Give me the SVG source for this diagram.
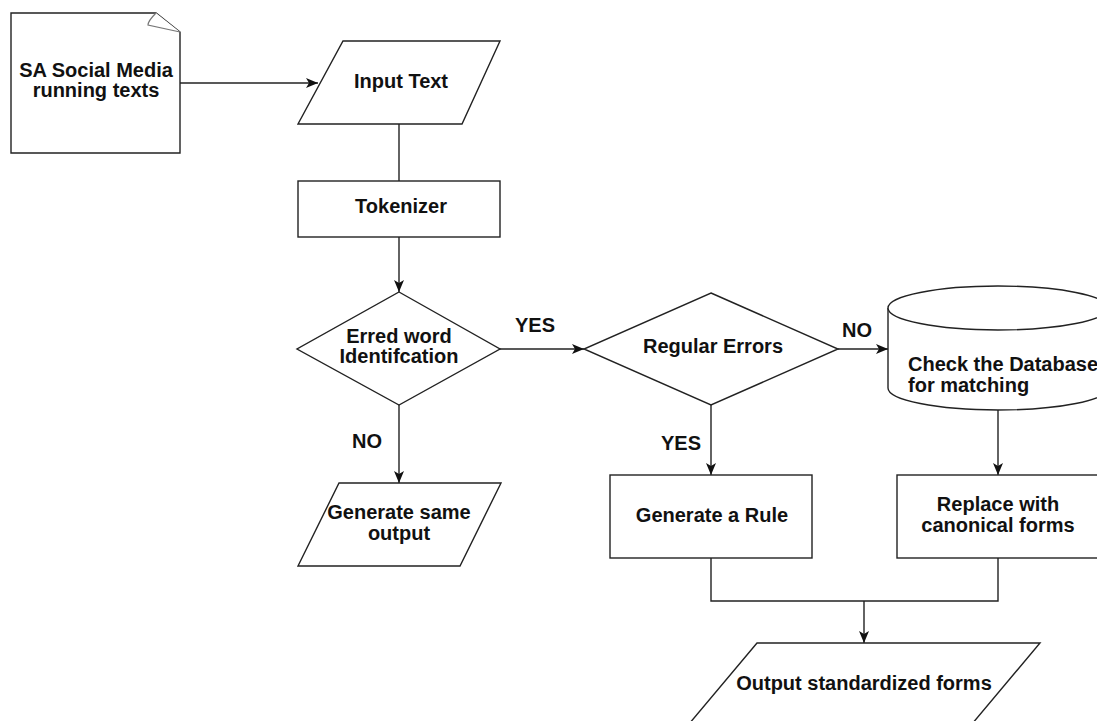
<svg xmlns="http://www.w3.org/2000/svg" width="1097" height="721" viewBox="0 0 1097 721">
<style>
.s{fill:#fff;stroke:#222;stroke-width:1.4}
.c{fill:none;stroke:#222;stroke-width:1.4}
.t{font-family:"Liberation Sans",Arial,sans-serif;font-weight:bold;font-size:20px;fill:#111;text-anchor:middle}
.l{text-anchor:start}
</style>
<defs>
<marker id="a" viewBox="0 0 12 10" refX="12" refY="5" markerWidth="12" markerHeight="10" markerUnits="userSpaceOnUse" orient="auto">
<path d="M0,0 L12,5 L0,10 L3,5 Z" fill="#111"/>
</marker>
</defs>
<rect width="1097" height="721" fill="#fff"/>
<g id="connectors">
<path class="c" d="M180,83 L318,83" marker-end="url(#a)"/>
<path class="c" d="M399,124 L399,181"/>
<path class="c" d="M399,237 L399,292" marker-end="url(#a)"/>
<path class="c" d="M500,349 L584,349" marker-end="url(#a)"/>
<path class="c" d="M838,349 L888,349" marker-end="url(#a)"/>
<path class="c" d="M399,405 L399,483" marker-end="url(#a)"/>
<path class="c" d="M711,405 L711,475" marker-end="url(#a)"/>
<path class="c" d="M998,410 L998,475" marker-end="url(#a)"/>
<path class="c" d="M711,558 L711,601 L998,601 L998,558"/>
<path class="c" d="M864,601 L864,643" marker-end="url(#a)"/>
<text class="t" x="535" y="332">YES</text>
<text class="t" x="857" y="337">NO</text>
<text class="t" x="367" y="448">NO</text>
<text class="t" x="681" y="450">YES</text>
</g>
<g id="doc">
<path class="s" d="M11,13 L156,13 L180,32 L180,153 L11,153 Z"/>
<path fill="#fff" stroke="#777" stroke-width="1.2" d="M156,13 C152,17 148,22 148,25 L180,32"/>
<text class="t" x="96" y="77">SA Social Media</text>
<text class="t" x="96" y="97">running texts</text>
</g>
<g id="input">
<path class="s" d="M343,41 L500,41 L462,124 L298,124 Z"/>
<text class="t" x="401" y="88">Input Text</text>
</g>
<g id="tokenizer">
<rect class="s" x="298" y="181" width="202" height="56"/>
<text class="t" x="401" y="213">Tokenizer</text>
</g>
<g id="erred">
<path class="s" d="M399,292 L500,349 L399,405 L297,349 Z"/>
<text class="t" x="399" y="343">Erred word</text>
<text class="t" x="399" y="363">Identifcation</text>
</g>
<g id="regular">
<path class="s" d="M711,293 L838,349 L711,405 L584,349 Z"/>
<text class="t" x="713" y="353">Regular Errors</text>
</g>
<g id="database">
<path class="s" d="M888,308 L888,388 A110,22 0 0 0 1108,388 L1108,308"/>
<ellipse class="s" cx="998" cy="308" rx="110" ry="22"/>
<text class="t l" x="908" y="371">Check the Database</text>
<text class="t l" x="908" y="392">for matching</text>
</g>
<g id="same">
<path class="s" d="M339,483 L501,483 L460,566 L298,566 Z"/>
<text class="t" x="399" y="519">Generate same</text>
<text class="t" x="399" y="540">output</text>
</g>
<g id="rule">
<rect class="s" x="610" y="475" width="202" height="83"/>
<text class="t" x="712" y="522">Generate a Rule</text>
</g>
<g id="replace">
<rect class="s" x="897" y="475" width="203" height="83"/>
<text class="t" x="998" y="511">Replace with</text>
<text class="t" x="998" y="532">canonical forms</text>
</g>
<g id="output">
<path class="s" d="M757,643 L1040,643 L972,724 L689,724 Z"/>
<text class="t" x="864" y="690">Output standardized forms</text>
</g>
</svg>
